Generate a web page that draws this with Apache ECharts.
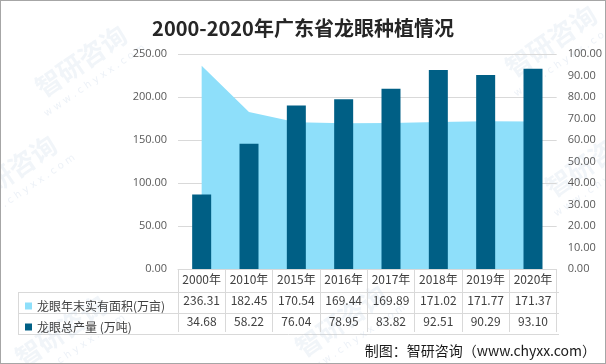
<!DOCTYPE html>
<html>
<head>
<meta charset="utf-8">
<script src="https://cdn.jsdelivr.net/npm/echarts@6/dist/echarts.min.js"></script>
<style>
html,body{margin:0;padding:0;background:#fff;}
#c{width:606px;height:364px;box-sizing:border-box;border:1px solid #a6a6a6;}
</style>
</head>
<body>
<div id="c"></div>
<script>
const categories = ['2000年','2010年','2015年','2016年','2017年','2018年','2019年','2020年'];
const areaValues = [236.31,182.45,170.54,169.44,169.89,171.02,171.77,171.37];
const prodValues = [34.68,58.22,76.04,78.95,83.82,92.51,90.29,93.10];
const areaName = '龙眼年末实有面积(万亩)';
const prodName = '龙眼总产量 (万吨)';
const titleText = '2000-2020年广东省龙眼种植情况';
const sourceText = '制图：智研咨询（www.chyxx.com）';

const CJK = "'Microsoft YaHei','Noto Sans CJK SC',sans-serif";
const AREA_COLOR = '#8EDFFA';
const BAR_COLOR = '#005F85';
const LINE = '#d9d9d9';

const chart = echarts.init(document.getElementById('c'), null, {renderer:'canvas'});

const GL = 177, GR = 558, GT = 53, GB = 270, ROW = 21;

function wm(x, y){
  return {
    type:'group', x:x, y:y, rotation:0.6, silent:true, z:100,
    children:[
      {type:'text', style:{text:'智研咨询', x:0, y:0, font:"bold 26px 'Noto Sans CJK SC'", fill:'rgba(185,205,225,0.2)', textAlign:'center', textVerticalAlign:'middle'}},
      {type:'text', style:{text:'w w w . c h y x x . c o m', x:0, y:24, font:"10px 'DejaVu Sans'", fill:'rgba(185,205,225,0.28)', textAlign:'center', textVerticalAlign:'middle'}}
    ]
  };
}

const option = {
  animation:false,
  title:{
    text:titleText, left:'center', top:12,
    textStyle:{fontFamily:CJK, fontSize:20, fontWeight:'bold', color:'#262626'}
  },
  legend:[
    {data:[areaName], left:19, top:294, icon:'rect', itemWidth:7, itemHeight:7, itemGap:5,
     textStyle:{fontFamily:CJK, fontSize:12, color:'#404040'}, selectedMode:false},
    {data:[prodName], left:19, top:315, icon:'rect', itemWidth:7, itemHeight:7, itemGap:5,
     textStyle:{fontFamily:CJK, fontSize:12, color:'#404040'}, selectedMode:false}
  ],
  grid:{left:GL, right:606-GR, top:GT, bottom:364-GB, containLabel:false},
  xAxis:{
    type:'category', data:categories, boundaryGap:true,
    axisLine:{show:true, lineStyle:{color:LINE}},
    axisTick:{show:true, length:ROW*3, interval:0, lineStyle:{color:LINE}},
    axisLabel:{
      interval:0, margin:0,
      formatter:function(v, i){
        return '{h|' + v + '}\n{a|' + areaValues[i].toFixed(2) + '}\n{b|' + prodValues[i].toFixed(2) + '}';
      },
      rich:{
        h:{fontFamily:CJK, fontSize:12, color:'#404040', lineHeight:ROW, height:ROW},
        a:{fontFamily:CJK, fontSize:12, color:'#404040', lineHeight:ROW, height:ROW},
        b:{fontFamily:CJK, fontSize:12, color:'#404040', lineHeight:ROW, height:ROW}
      }
    }
  },
  yAxis:[
    {type:'value', min:0, max:250, interval:50, position:'left',
     axisLine:{show:false}, axisTick:{show:false},
     axisLabel:{margin:11, color:'#595959', fontSize:11, fontFamily:"'Open Sans','DejaVu Sans',sans-serif", formatter:v=>v.toFixed(2)},
     splitLine:{show:true, lineStyle:{color:LINE}}},
    {type:'value', min:0, max:100, interval:10, position:'right',
     axisLine:{show:false}, axisTick:{show:false},
     axisLabel:{margin:11, color:'#595959', fontSize:11, fontFamily:"'Open Sans','DejaVu Sans',sans-serif", formatter:v=>v.toFixed(2)},
     splitLine:{show:false}}
  ],
  series:[
    {name:areaName, type:'line', yAxisIndex:0, data:areaValues, symbol:'none',
     lineStyle:{width:0, color:AREA_COLOR}, itemStyle:{color:AREA_COLOR},
     areaStyle:{color:AREA_COLOR, opacity:1}, z:1},
    {name:prodName, type:'bar', yAxisIndex:1, data:prodValues, barWidth:19,
     itemStyle:{color:BAR_COLOR}, z:2}
  ],
  graphic:[
    {type:'line', shape:{x1:17, y1:GB+ROW+0.5, x2:GR, y2:GB+ROW+0.5}, style:{stroke:LINE, lineWidth:1}, silent:true},
    {type:'line', shape:{x1:17, y1:GB+2*ROW+0.5, x2:GR, y2:GB+2*ROW+0.5}, style:{stroke:LINE, lineWidth:1}, silent:true},
    {type:'line', shape:{x1:17, y1:GB+3*ROW+0.5, x2:GR, y2:GB+3*ROW+0.5}, style:{stroke:LINE, lineWidth:1}, silent:true},
    {type:'line', shape:{x1:17.5, y1:GB+ROW, x2:17.5, y2:GB+3*ROW}, style:{stroke:LINE, lineWidth:1}, silent:true},
    {type:'text', right:9, top:343, style:{text:sourceText, font:"14px "+CJK, fill:'#1a1a1a'}, silent:true},
    wm(80,60), wm(10,170), wm(310,150), wm(550,40), wm(590,160), wm(60,330), wm(340,320)
  ]
};
chart.setOption(option);
</script>
</body>
</html>
